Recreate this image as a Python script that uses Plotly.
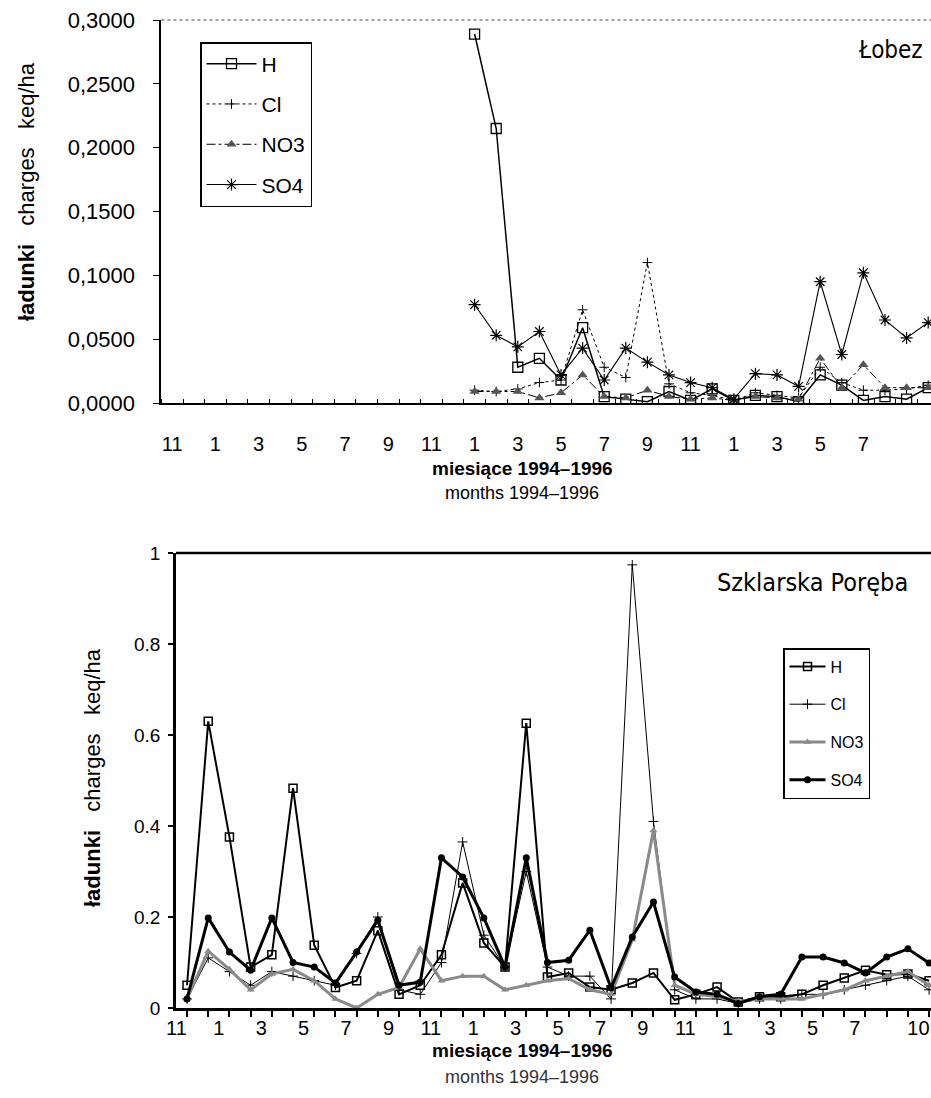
import plotly.graph_objects as go

W, H = 931, 1098

# ---------------- data ----------------
# month index: 0 = Nov 1993 ... 35 = Oct 1996
month_labels_top = ["11", "1", "3", "5", "7", "9", "11", "1", "3", "5", "7", "9", "11", "1", "3", "5", "7"]
month_pos_top = [0, 2, 4, 6, 8, 10, 12, 14, 16, 18, 20, 22, 24, 26, 28, 30, 32]
month_labels_bot = ["11", "1", "3", "5", "7", "9", "11", "1", "3", "5", "7", "9", "11", "1", "3", "5", "7", "10"]
month_pos_bot = [0, 2, 4, 6, 8, 10, 12, 14, 16, 18, 20, 22, 24, 26, 28, 30, 32, 35]

# Łobez (data from Jan 1995 = index 14)
lob_idx = list(range(14, 36))
lob_H = [0.289, 0.215, 0.028, 0.035, 0.018, 0.059, 0.005, 0.003, 0.001, 0.009, 0.002,
         0.011, 0.002, 0.006, 0.005, 0.001, 0.022, 0.014, 0.002, 0.005, 0.003, 0.012]
lob_Cl = [0.010, 0.009, 0.011, 0.016, 0.018, 0.073, 0.028, 0.020, 0.110, 0.015, 0.008,
          0.006, 0.002, 0.008, 0.006, 0.004, 0.028, 0.016, 0.010, 0.010, 0.011, 0.014]
lob_NO3 = [0.009, 0.009, 0.009, 0.004, 0.008, 0.022, 0.005, 0.004, 0.010, 0.005, 0.003,
           0.004, 0.002, 0.005, 0.004, 0.003, 0.035, 0.012, 0.030, 0.012, 0.012, 0.012]
lob_SO4 = [0.077, 0.053, 0.044, 0.056, 0.022, 0.043, 0.018, 0.043, 0.032, 0.022, 0.016,
           0.012, 0.003, 0.023, 0.022, 0.013, 0.095, 0.038, 0.102, 0.065, 0.051, 0.063]

# Szklarska Poręba (index 0..35)
szk_idx = list(range(0, 36))
szk_H = [0.05, 0.63, 0.376, 0.09, 0.117, 0.483, 0.138, 0.045, 0.06, 0.17, 0.03, 0.05,
         0.117, 0.275, 0.143, 0.09, 0.626, 0.068, 0.077, 0.046, 0.04, 0.055, 0.077, 0.018,
         0.03, 0.046, 0.013, 0.025, 0.025, 0.03, 0.05, 0.066, 0.083, 0.073, 0.075, 0.06]
szk_Cl = [0.02, 0.11, 0.08, 0.05, 0.08, 0.07, 0.06, 0.05, 0.12, 0.20, 0.04, 0.03,
          0.10, 0.365, 0.16, 0.09, 0.30, 0.09, 0.07, 0.07, 0.02, 0.974, 0.41, 0.04,
          0.02, 0.02, 0.01, 0.02, 0.02, 0.03, 0.03, 0.04, 0.05, 0.06, 0.07, 0.04]
szk_NO3 = [0.02, 0.125, 0.085, 0.04, 0.075, 0.085, 0.06, 0.02, 0.0, 0.03, 0.045, 0.13,
           0.06, 0.07, 0.07, 0.04, 0.05, 0.06, 0.065, 0.04, 0.03, 0.15, 0.39, 0.05,
           0.03, 0.025, 0.015, 0.02, 0.02, 0.02, 0.03, 0.04, 0.06, 0.07, 0.08, 0.05]
szk_SO4 = [0.02, 0.198, 0.123, 0.083, 0.198, 0.10, 0.09, 0.055, 0.123, 0.193, 0.05, 0.057,
           0.33, 0.288, 0.198, 0.09, 0.33, 0.10, 0.105, 0.171, 0.044, 0.156, 0.233, 0.068,
           0.035, 0.03, 0.01, 0.025, 0.03, 0.112, 0.112, 0.099, 0.077, 0.112, 0.13, 0.099]

top_yticks = [0, 0.05, 0.10, 0.15, 0.20, 0.25, 0.30]
top_yticktext = ["0,0000", "0,0500", "0,1000", "0,1500", "0,2000", "0,2500", "0,3000"]
bot_yticks = [0, 0.2, 0.4, 0.6, 0.8, 1]
bot_yticktext = ["0", "0.2", "0.4", "0.6", "0.8", "1"]

FONT = "Liberation Sans, Arial, sans-serif"
COND = "Liberation Sans Narrow, DejaVu Sans Condensed, Liberation Sans, Arial"

# ---------------- geometry (pixels -> paper) ----------------
def px_x(p):
    return p / W

def px_y(p):
    return 1 - p / H

top_l, top_t, top_b = 161.4, 20, 403
bot_l, bot_t, bot_b = 176, 553, 1008

fig = go.Figure()

# ---------------- top chart traces ----------------
fig.add_trace(go.Scatter(x=lob_idx, y=lob_H, name="H", mode="lines+markers",
                         line=dict(color="black", width=1.5),
                         marker=dict(symbol="square-open", size=10, color="black", line=dict(width=1.3)),
                         xaxis="x", yaxis="y", legend="legend", legendgroup="a"))
fig.add_trace(go.Scatter(x=lob_idx, y=lob_Cl, name="Cl", mode="lines+markers",
                         line=dict(color="black", width=1, dash="dot"),
                         marker=dict(symbol="cross-thin-open", size=7, color="black", line=dict(width=1)),
                         xaxis="x", yaxis="y", legend="legend", legendgroup="b"))
fig.add_trace(go.Scatter(x=lob_idx, y=lob_NO3, name="NO3", mode="lines+markers",
                         line=dict(color="black", width=1, dash="dashdot"),
                         marker=dict(symbol="triangle-up", size=9, color="#555"),
                         xaxis="x", yaxis="y", legend="legend", legendgroup="c"))
fig.add_trace(go.Scatter(x=lob_idx, y=lob_SO4, name="SO4", mode="lines+markers",
                         line=dict(color="black", width=1.1),
                         marker=dict(symbol="asterisk-open", size=10, color="black", line=dict(width=1.2)),
                         xaxis="x", yaxis="y", legend="legend", legendgroup="d"))

# ---------------- bottom chart traces ----------------
fig.add_trace(go.Scatter(x=szk_idx, y=szk_H, name="H", mode="lines+markers",
                         line=dict(color="black", width=2),
                         marker=dict(symbol="square-open", size=8, color="black", line=dict(width=1.5)),
                         xaxis="x2", yaxis="y2", legend="legend2", legendgroup="e"))
fig.add_trace(go.Scatter(x=szk_idx, y=szk_Cl, name="Cl", mode="lines+markers",
                         line=dict(color="black", width=1),
                         marker=dict(symbol="cross-thin-open", size=7, color="black", line=dict(width=1)),
                         xaxis="x2", yaxis="y2", legend="legend2", legendgroup="f"))
fig.add_trace(go.Scatter(x=szk_idx, y=szk_NO3, name="NO3", mode="lines+markers",
                         line=dict(color="#8a8a8a", width=3),
                         marker=dict(symbol="triangle-up", size=7, color="#8a8a8a"),
                         xaxis="x2", yaxis="y2", legend="legend2", legendgroup="g"))
fig.add_trace(go.Scatter(x=szk_idx, y=szk_SO4, name="SO4", mode="lines+markers",
                         line=dict(color="black", width=3),
                         marker=dict(symbol="circle", size=7, color="black"),
                         xaxis="x2", yaxis="y2", legend="legend2", legendgroup="h"))

# ---------------- axes ----------------
fig.update_layout(
    template="none",
    width=W, height=H,
    margin=dict(l=0, r=0, t=0, b=0, pad=0, autoexpand=False),
    paper_bgcolor="white", plot_bgcolor="white",
    font=dict(family=FONT, color="black"),
    showlegend=True,
    xaxis=dict(domain=[px_x(top_l), 1], range=[-0.5, 35.13], anchor="y", automargin=False,
               tickmode="array", tickvals=month_pos_top, ticktext=month_labels_top,
               ticks="", ticklen=0, ticklabelstandoff=22,
               tickfont=dict(size=20, family=FONT),
               minor=dict(tickmode="array", tickvals=[k + 0.5 for k in range(-1, 36)],
                          ticks="inside", ticklen=4, tickcolor="black", tickwidth=1, showgrid=False),
               showline=True, linecolor="black", linewidth=2, showgrid=False, zeroline=False),
    yaxis=dict(domain=[px_y(top_b), px_y(top_t)], range=[0, 0.3], anchor="x", automargin=False,
               tickmode="array", tickvals=top_yticks, ticktext=top_yticktext,
               ticks="outside", ticklen=6, tickcolor="black", ticklabelstandoff=14,
               tickfont=dict(size=22, family=FONT),
               showline=True, linecolor="black", linewidth=2, showgrid=False, zeroline=False),
    xaxis2=dict(domain=[px_x(bot_l), 1], range=[-0.52, 35.09], anchor="y2", automargin=False,
                tickmode="array", tickvals=[p - 0.5 for p in month_pos_bot], ticktext=month_labels_bot,
                ticks="", ticklen=0, ticklabelstandoff=0,
                tickfont=dict(size=20, family=FONT),
                minor=dict(tickmode="array", tickvals=list(range(0, 36)),
                           ticks="outside", ticklen=6, tickcolor="black", tickwidth=2, showgrid=False),
                showline=True, linecolor="black", linewidth=2.5, showgrid=False, zeroline=False),
    yaxis2=dict(domain=[px_y(bot_b), px_y(bot_t)], range=[0, 1], anchor="x2", automargin=False,
                tickmode="array", tickvals=bot_yticks, ticktext=bot_yticktext,
                ticks="outside", ticklen=5, tickcolor="black", tickwidth=1.5, ticklabelstandoff=4,
                tickfont=dict(size=19, family=FONT),
                showline=True, linecolor="black", linewidth=2.5, showgrid=False, zeroline=False),
    legend=dict(x=px_x(200), y=px_y(42), xanchor="left", yanchor="top",
                bordercolor="black", borderwidth=1.5, bgcolor="white",
                font=dict(size=21, family=FONT), itemwidth=50,
                tracegroupgap=10, traceorder="grouped"),
    legend2=dict(x=px_x(783), y=px_y(648), xanchor="left", yanchor="top",
                 bordercolor="black", borderwidth=1.5, bgcolor="white",
                 font=dict(size=16, family=FONT), itemwidth=36,
                 tracegroupgap=14, traceorder="grouped"),
)

# frame top lines
fig.add_shape(type="line", xref="paper", yref="paper", x0=px_x(top_l), x1=1,
              y0=px_y(top_t), y1=px_y(top_t), line=dict(color="#444", width=1.2, dash="dot"))
fig.add_shape(type="line", xref="paper", yref="paper", x0=px_x(bot_l), x1=1,
              y0=px_y(bot_t), y1=px_y(bot_t), line=dict(color="black", width=2.5))

ytitle = "<b>ładunki</b>\u00a0\u00a0 charges\u00a0\u00a0 keq/ha"
annotations = [
    dict(text="Łobez", x=px_x(890), y=px_y(50), font=dict(size=24, family=COND)),
    dict(text="Szklarska Poręba", x=px_x(812), y=px_y(582), font=dict(size=25, family=COND)),
    dict(text=ytitle, x=px_x(27), y=px_y(192), textangle=-90, font=dict(size=22, family=FONT)),
    dict(text=ytitle, x=px_x(92), y=px_y(778), textangle=-90, font=dict(size=22, family=FONT)),
    dict(text="<b>miesiące 1994–1996</b>", x=px_x(522), y=px_y(468), font=dict(size=19, family=FONT)),
    dict(text="months 1994–1996", x=px_x(522), y=px_y(493), font=dict(size=18, family=FONT)),
    dict(text="<b>miesiące 1994–1996</b>", x=px_x(522), y=px_y(1050), font=dict(size=19, family=FONT)),
    dict(text="months 1994–1996", x=px_x(522), y=px_y(1077), font=dict(size=18, family=FONT, color="#333")),
]
for a in annotations:
    a.update(xref="paper", yref="paper", showarrow=False, xanchor="center", yanchor="middle")
fig.update_layout(annotations=annotations)

fig.write_html("out.html", config={"displayModeBar": False},
               post_script="document.body.style.margin='0px';document.body.style.overflow='hidden';")
